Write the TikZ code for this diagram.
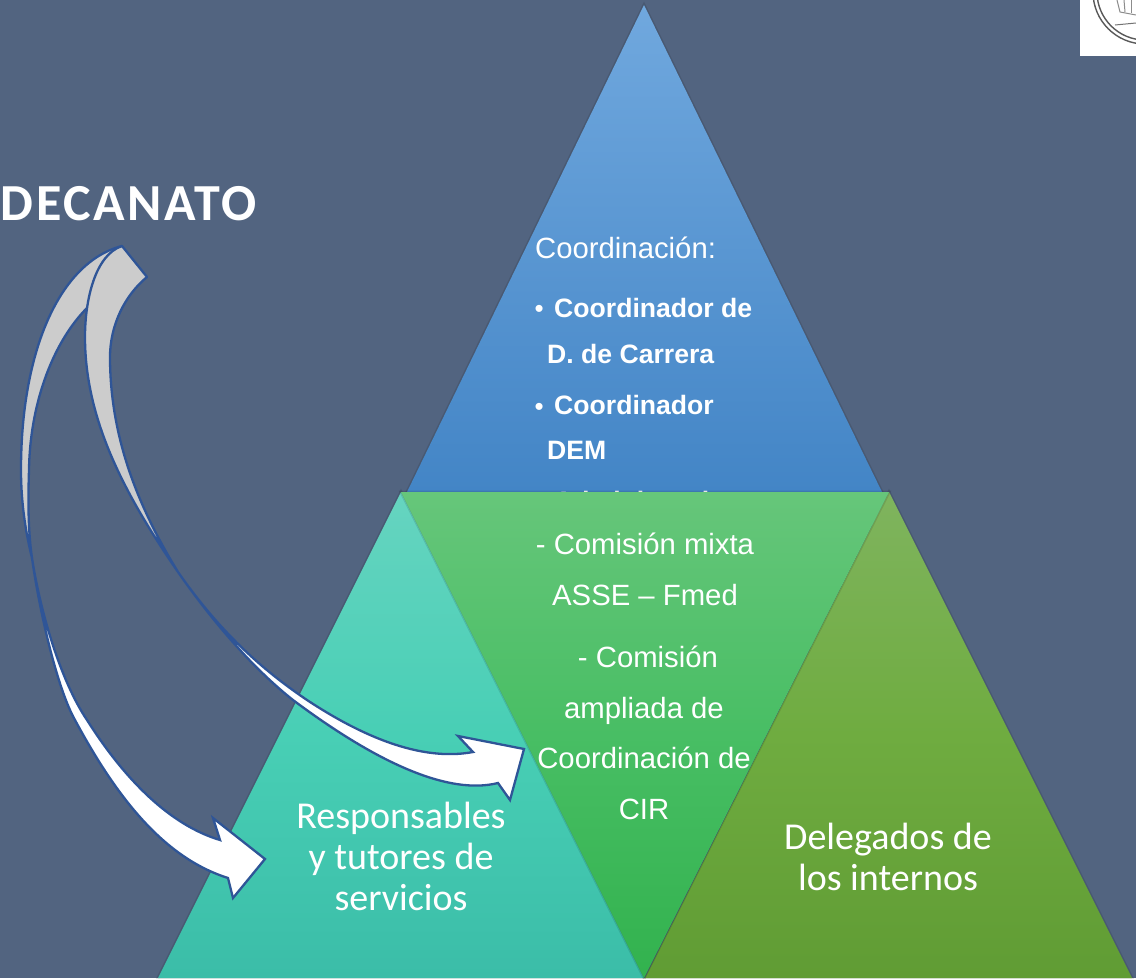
\documentclass[tikz,border=0pt]{standalone}
\usepackage{fontspec}
\setmainfont{Liberation Sans}
\newfontfamily\corbelfont{Carlito}
\newfontfamily\titlefont[LetterSpace=5]{Carlito}

\definecolor{slide}{HTML}{526480}
\definecolor{arrowline}{HTML}{2F5597}
\definecolor{arrowgrey}{HTML}{CCCCCC}
\definecolor{bluetop}{HTML}{70A8DE}
\definecolor{bluebot}{HTML}{4385C6}
\definecolor{tealtop}{HTML}{66D4C0}
\definecolor{tealmid}{HTML}{48CFB5}
\definecolor{tealbot}{HTML}{3BBDA8}
\definecolor{greentop}{HTML}{66C67A}
\definecolor{greenmid}{HTML}{48BE64}
\definecolor{greenbot}{HTML}{32B24E}
\definecolor{olivetop}{HTML}{7FB45E}
\definecolor{olivemid}{HTML}{6FAC40}
\definecolor{olivebot}{HTML}{609C34}

\tikzstyle{tri} = [preaction={draw=black,opacity=.1,line width=3pt}]
\tikzstyle{blueface} = [tri,top color=bluetop,bottom color=bluebot]
\tikzstyle{tealface} = [tri,top color=tealtop,bottom color=tealbot,middle color=tealmid]
\tikzstyle{greenface} = [tri,top color=greentop,bottom color=greenbot,middle color=greenmid]
\tikzstyle{oliveface} = [tri,top color=olivetop,bottom color=olivebot,middle color=olivemid]
\tikzstyle{backarrow} = [draw=arrowline,line width=2.3pt,line join=round,fill=arrowgrey]
\tikzstyle{frontarrow} = [draw=arrowline,line width=2.3pt,line join=miter,fill=white]
\tikzstyle{plain} = [text=white,inner sep=0pt,font=\fontsize{29.3}{29}\selectfont]
\tikzstyle{strong} = [text=white,inner sep=0pt,font=\fontsize{26.6}{27}\selectfont\bfseries]
\tikzstyle{dot} = [text=white,inner sep=0pt,font=\fontsize{26}{26}\selectfont]
\tikzstyle{corbel} = [text=white,inner sep=0pt,font=\corbelfont\fontsize{38}{38}\selectfont]

\begin{document}
\begin{tikzpicture}[x=1pt,y=-1pt]
	\useasboundingbox (0,0) rectangle (1136,978);
	\clip (0,0) rectangle (1136,978);
	\fill[slide] (0,0) rectangle (1136,978);

	% seal in the corner
	\begin{scope}
		\fill[white] (1080,0) rectangle (1136,56);
		\clip (1080,0) rectangle (1136,56);
		\draw[black!65,line width=1.4pt] (1145,-8) circle (52);
		\draw[black!65,line width=1.4pt] (1145,-8) circle (48);
		\draw[black!45,line width=1pt] (1117,0) -- (1120,12) -- (1136,15);
		\draw[black!45,line width=1pt] (1124,0) -- (1125,12);
		\draw[black!45,line width=1pt] (1131,0) -- (1131,13);
		\draw[black!55,line width=1pt] (1115,25) -- (1136,23);
	\end{scope}

	\node[font=\titlefont\bfseries\fontsize{52}{52}\selectfont,text=white,inner sep=0pt,anchor=base east] (decanato) at (257,220) {DECANATO};

	% top triangle and its text
	\path[blueface] (644,5) -- (882,492) -- (407,492) -- cycle;
	\node[plain,anchor=base west] (coord) at (535,258) {Coordinación:};
	\node[dot,anchor=base west] (bull1) at (534.5,317) {•};
	\node[strong,anchor=base west] (coord1) at (554,317) {Coordinador de};
	\node[strong,anchor=base west] (coord2) at (547,363) {D. de Carrera};
	\node[dot,anchor=base west] (bull2) at (534.5,415) {•};
	\node[strong,anchor=base west] (coord3) at (554,414) {Coordinador};
	\node[strong,anchor=base west] (coord4) at (547,459) {DEM};
	\node[strong,anchor=base west] (coord5) at (554,510) {Administrativa};

	% lower triangles
	\path[tealface] (401,492) -- (644,978) -- (158,978) -- cycle;
	\path[oliveface] (889,492) -- (1132,978) -- (645,978) -- cycle;
	\path[greenface] (401,492) -- (889,492) -- (644,978) -- cycle;

	\node[plain,anchor=base] (mixta1) at (645,554) {- Comisión mixta};
	\node[plain,anchor=base] (mixta2) at (645,605) {ASSE – Fmed};
	\node[plain,anchor=base] (ampl1) at (648,667) {- Comisión};
	\node[plain,anchor=base] (ampl2) at (644,718) {ampliada de};
	\node[plain,anchor=base] (ampl3) at (644,768) {Coordinación de};
	\node[plain,anchor=base] (ampl4) at (644,819) {CIR};

	\node[corbel,anchor=base] (resp1) at (401,828) {Responsables};
	\node[corbel,anchor=base] (resp2) at (401,869) {y tutores de};
	\node[corbel,anchor=base] (resp3) at (401,910) {servicios};
	\node[corbel,anchor=base] (deleg1) at (888,849) {Delegados de};
	\node[corbel,anchor=base] (deleg2) at (888,890) {los internos};

	% long arrow
	\draw[backarrow] (122,246) .. controls (60,262) and (21,350) .. (21,470)
		.. controls (21,500) and (25,530) .. (32,558)
		.. controls (28,530) and (28,500) .. (29,470)
		.. controls (30,400) and (55,340) .. (87,308) -- cycle;
	\draw[frontarrow] (32,558) .. controls (40,610) and (60,680) .. (87,720)
		.. controls (125,780) and (170,825) .. (220,840)
		-- (213,818) -- (265,859) -- (233,898) -- (228,878)
		.. controls (165,858) and (118,800) .. (75,720)
		.. controls (58,690) and (40,615) .. (32,558) -- cycle;

	% short arrow
	\draw[backarrow] (122,246) .. controls (95,255) and (85,300) .. (85,337)
		.. controls (85,420) and (125,495) .. (178,572)
		.. controls (140,510) and (110,440) .. (110,357)
		.. controls (110,325) and (125,295) .. (147,277) -- cycle;
	\draw[frontarrow] (178,572) .. controls (215,625) and (255,665) .. (307,700)
		.. controls (360,735) and (420,762) .. (473,752)
		-- (458,736) -- (524,749) -- (510,800) -- (498,783)
		.. controls (450,795) and (380,765) .. (293,700)
		.. controls (255,670) and (215,625) .. (178,572) -- cycle;
\end{tikzpicture}
\end{document}
